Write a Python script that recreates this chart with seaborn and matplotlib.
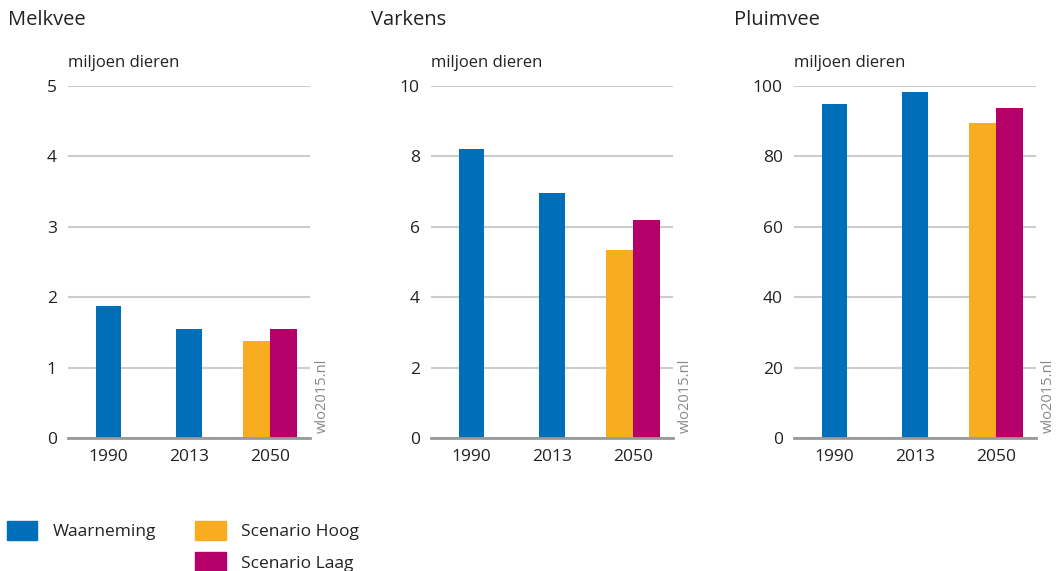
import pandas as pd
import matplotlib.pyplot as plt
import seaborn as sns
from matplotlib.patches import Patch

# Data (miljoen dieren)
years = ["1990", "2013", "2050"]
species = ["Melkvee", "Varkens", "Pluimvee"]
waarneming = {
    "Melkvee": [1.87, 1.55],
    "Varkens": [8.2, 6.95],
    "Pluimvee": [94.8, 98.2],
}
scenario_hoog = {"Melkvee": 1.38, "Varkens": 5.33, "Pluimvee": 89.4}
scenario_laag = {"Melkvee": 1.55, "Varkens": 6.18, "Pluimvee": 93.7}
y_max = {"Melkvee": 5, "Varkens": 10, "Pluimvee": 100}
y_step = {"Melkvee": 1, "Varkens": 2, "Pluimvee": 20}

blue = "#006FB9"
orange = "#F8AC1F"
magenta = "#B5006A"
text_col = "#222222"

sns.set_style("white")
plt.rcParams["font.family"] = ["Open Sans", "DejaVu Sans"]

fig = plt.figure(figsize=(10.57, 5.71), dpi=100)

lefts = [68, 431, 794]
for name, left in zip(species, lefts):
    ax = fig.add_axes([left / 1057, 1 - 438 / 571, 242 / 1057, 352 / 571])

    obs = pd.DataFrame({"jaar": years[:2], "waarde": waarneming[name]})
    scen = pd.DataFrame({
        "jaar": ["2050", "2050"],
        "scenario": ["Scenario Hoog", "Scenario Laag"],
        "waarde": [scenario_hoog[name], scenario_laag[name]],
    })

    sns.barplot(data=obs, x="jaar", y="waarde", order=years, color=blue,
                width=0.31, saturation=1, errorbar=None, linewidth=0, ax=ax)
    sns.barplot(data=scen, x="jaar", y="waarde", hue="scenario", order=years,
                hue_order=["Scenario Hoog", "Scenario Laag"],
                palette=[orange, magenta], width=0.67, dodge=True,
                saturation=1, errorbar=None, legend=False, linewidth=0, ax=ax)

    ax.set_xlim(-0.5, 2.5)
    ax.set_ylim(0, y_max[name])
    ax.set_yticks(range(0, y_max[name] + 1, y_step[name]))
    ax.yaxis.grid(True, color="#cccccc", linewidth=1.5)
    ax.set_axisbelow(True)
    for s in ["top", "right", "left"]:
        ax.spines[s].set_visible(False)
    ax.spines["bottom"].set_color("#999999")
    ax.spines["bottom"].set_linewidth(2)
    ax.tick_params(axis="both", length=0, labelsize=12.5, colors=text_col)
    ax.tick_params(axis="y", pad=8)
    ax.tick_params(axis="x", pad=8)
    ax.set_xlabel("")
    ax.set_ylabel("")

    fig.text((left - 60) / 1057, 1 - 20 / 571, name, fontsize=14.5,
             color=text_col, va="center", ha="left")
    ax.text(0, 1.065, "miljoen dieren", transform=ax.transAxes, fontsize=12,
            color=text_col, va="center", ha="left")
    ax.text(1.05, 0.015, "wlo2015.nl", transform=ax.transAxes, rotation=90,
            fontsize=10.5, color="#888888", va="bottom", ha="center")

handles = [Patch(color=blue), Patch(color="none"),
           Patch(color=orange), Patch(color=magenta)]
labels = ["Waarneming", "", "Scenario Hoog", "Scenario Laag"]
fig.legend(handles, labels, ncol=2, loc="upper left",
           bbox_to_anchor=(0.0, 1 - 514 / 571), frameon=False, fontsize=12.5,
           handlelength=1.75, handleheight=1.3, handletextpad=0.9,
           columnspacing=2.25, labelspacing=0.7, borderaxespad=0,
           labelcolor=text_col)

fig.savefig("out.png", dpi=100)
